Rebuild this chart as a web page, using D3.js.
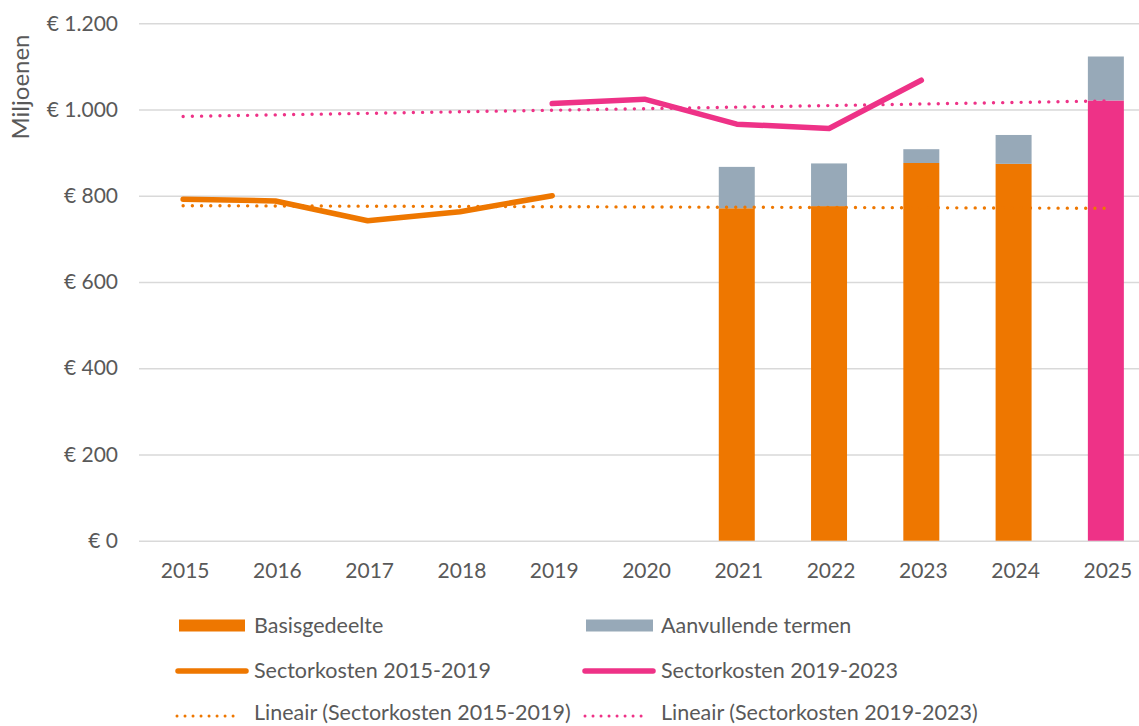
<!DOCTYPE html>
<html>
<head>
<meta charset="utf-8">
<script src="https://cdn.jsdelivr.net/npm/d3@7"></script>
<style>
  html, body { margin: 0; padding: 0; background: #fff; }
  svg { display: block; font-family: Lato, "Open Sans", sans-serif; }
</style>
</head>
<body>
<svg id="chart" width="1139" height="726"></svg>
<script>
// ---- data ----
const years = ["2015","2016","2017","2018","2019","2020","2021","2022","2023","2024","2025"];
const barYears = ["2021","2022","2023","2024","2025"];
const basisgedeelte = [771, 776, 876, 874, 1021];
const aanvullendeTermen = [96, 99, 32, 67, 102];
const sector1519Years = ["2015","2016","2017","2018","2019"];
const sector1519 = [792, 788, 742, 763, 800];
const sector1923Years = ["2019","2020","2021","2022","2023"];
const sector1923 = [1014, 1024, 966, 956, 1068];
const trendYears = ["2015","2025"];
const trend1519 = [777, 771];
const trend1923 = [984, 1020];
const yTicks = [0, 200, 400, 600, 800, 1000, 1200];
const yTickLabels = ["€ 0","€ 200","€ 400","€ 600","€ 800","€ 1.000","€ 1.200"];
const legendLabels = ["Basisgedeelte","Aanvullende termen","Sectorkosten 2015-2019","Sectorkosten 2019-2023","Lineair (Sectorkosten 2015-2019)","Lineair (Sectorkosten 2019-2023)"];

// ---- styles ----
const ORANGE = "#EE7700", PINK = "#EE3287", GREYBLUE = "#97A9B8", GRID = "#D9D9D9", TEXT = "#595959";

const svg = d3.select("#chart");
const W = 1139;
const plotLeft = 137, plotRight = 1152, plotTop = 23.3, plotBottom = 540.7;

const x = d3.scaleBand().domain(years).range([plotLeft, plotRight]).paddingInner(0.61).paddingOuter(0.305);
const cx = d => x(d) + x.bandwidth() / 2;
const y = d3.scaleLinear().domain([0, 1200]).range([plotBottom, plotTop]);

// gridlines
const yAxis = d3.axisLeft(y).tickValues(yTicks).tickSize(-(W - 139)).tickFormat((d, i) => yTickLabels[i]).tickPadding(21);
const gy = svg.append("g").attr("transform", `translate(139,0)`).call(yAxis);
gy.select(".domain").remove();
gy.selectAll(".tick line").attr("stroke", GRID).attr("stroke-width", 1.5);
gy.selectAll(".tick text").attr("fill", TEXT).style("font-size", "21px").attr("font-family", "Lato, sans-serif");

// x axis labels
const xAxis = d3.axisBottom(x).tickSize(0).tickPadding(22);
const gx = svg.append("g").attr("transform", `translate(2,${plotBottom})`).call(xAxis);
gx.select(".domain").remove();
gx.selectAll(".tick text").attr("fill", TEXT).style("font-size", "21px").attr("font-family", "Lato, sans-serif");

// y title
svg.append("text")
  .attr("transform", "translate(29,87) rotate(-90)")
  .attr("text-anchor", "middle")
  .attr("fill", TEXT)
  .style("font-size", "24px")
  .text("Miljoenen");

// bars (stacked)
const barData = barYears.map((yr, i) => ({ year: yr, basis: basisgedeelte[i], extra: aanvullendeTermen[i] }));
const basisFill = d => d.year === "2025" ? PINK : ORANGE;
const bars = svg.append("g");
bars.selectAll("rect.basis").data(barData).join("rect")
  .attr("class", "basis")
  .attr("x", d => x(d.year)).attr("width", x.bandwidth())
  .attr("y", d => y(d.basis)).attr("height", d => y(0) - y(d.basis))
  .attr("fill", basisFill);
bars.selectAll("rect.extra").data(barData).join("rect")
  .attr("class", "extra")
  .attr("x", d => x(d.year)).attr("width", x.bandwidth())
  .attr("y", d => y(d.basis + d.extra)).attr("height", d => y(d.basis) - y(d.basis + d.extra))
  .attr("fill", GREYBLUE);

// trend lines
const line = d3.line().x(d => cx(d[0])).y(d => y(d[1]));
function dotted(g, data, color) {
  g.append("path").datum(data).attr("d", line)
    .attr("fill", "none").attr("stroke", color).attr("stroke-width", 3.4)
    .attr("stroke-linecap", "round").attr("stroke-dasharray", "0.01 9.2");
}
dotted(svg, trendYears.map((t, i) => [t, trend1519[i]]), ORANGE);
dotted(svg, trendYears.map((t, i) => [t, trend1923[i]]), PINK);

// sector lines
function solid(g, data, color) {
  g.append("path").datum(data).attr("d", line)
    .attr("fill", "none").attr("stroke", color).attr("stroke-width", 5.5)
    .attr("stroke-linecap", "round").attr("stroke-linejoin", "round");
}
solid(svg, sector1519Years.map((t, i) => [t, sector1519[i]]), ORANGE);
solid(svg, sector1923Years.map((t, i) => [t, sector1923[i]]), PINK);

// legend
const lg = svg.append("g").style("font-size", "21.5px").attr("fill", TEXT);
const cols = [{sw: 178, tx: 254}, {sw: 585, tx: 661}];
const rows = [626, 671, 716];
const textY = [632.5, 677.5, 720];
// row 1: rects
lg.append("rect").attr("x", 179).attr("y", 619.5).attr("width", 66).attr("height", 12).attr("fill", ORANGE);
lg.append("rect").attr("x", 586).attr("y", 619.5).attr("width", 67).attr("height", 12).attr("fill", GREYBLUE);
// row 2: solid lines
[[176, 248, ORANGE], [583, 655, PINK]].forEach(([a, b, c]) => {
  lg.append("line").attr("x1", a + 2).attr("x2", b - 2).attr("y1", rows[1]).attr("y2", rows[1])
    .attr("stroke", c).attr("stroke-width", 5.5).attr("stroke-linecap", "round");
});
// row 3: dotted lines
[[177, 241, ORANGE], [585, 649, PINK]].forEach(([a, b, c]) => {
  lg.append("line").attr("x1", a).attr("x2", b).attr("y1", rows[2]).attr("y2", rows[2])
    .attr("stroke", c).attr("stroke-width", 3).attr("stroke-linecap", "round").attr("stroke-dasharray", "0.01 8");
});
legendLabels.forEach((t, i) => {
  const r = Math.floor(i / 2), c = i % 2;
  lg.append("text").attr("x", cols[c].tx).attr("y", textY[r]).text(t);
});
</script>
</body>
</html>
